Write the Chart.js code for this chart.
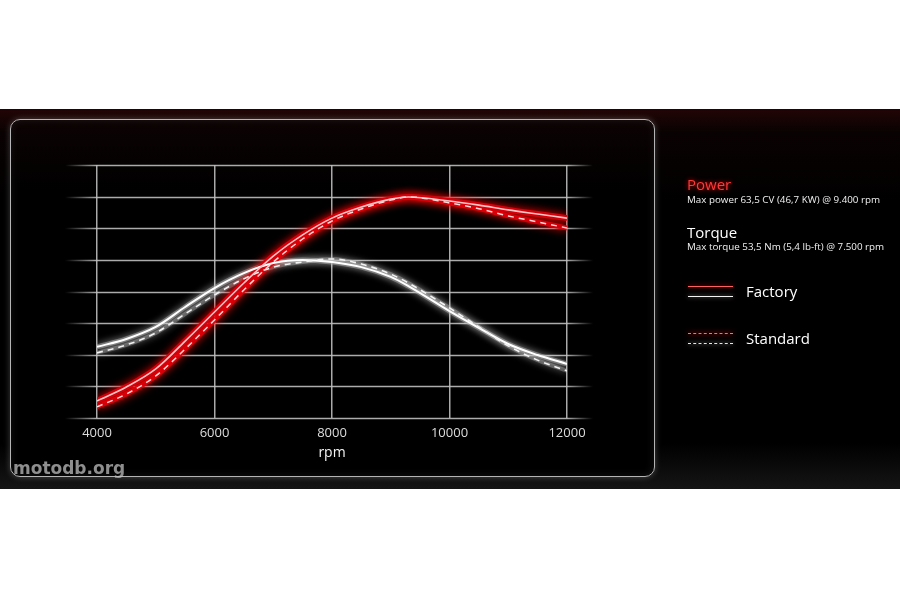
<!DOCTYPE html>
<html>
<head>
<meta charset="utf-8">
<script src="https://cdn.jsdelivr.net/npm/chart.js@4.4.1/dist/chart.umd.min.js"></script>
<style>
  html, body { margin: 0; padding: 0; background: #fff; width: 900px; height: 600px; overflow: hidden; font-family: "Open Sans", sans-serif; }
  #band { position: absolute; left: 0; top: 109px; width: 900px; height: 380px;
    background: linear-gradient(to bottom, #220506 0%, #0a0202 6%, #000 25%, #000 88%, #151515 100%); }
  #panel { position: absolute; left: 10px; top: 119px; width: 643px; height: 356px;
    border: 1.5px solid #b5b5b5; border-radius: 10px;
    box-shadow: 0 0 6px rgba(255,255,255,0.25), inset 0 0 8px rgba(255,255,255,0.08);
    background: linear-gradient(to bottom, #0c0303 0%, #000 20%); }
  #barCanvas { position: absolute; left: 0; top: 0; }
  .lg { position: absolute; color: #fff; white-space: nowrap; }
  .head { font-size: 15px; line-height: 15px; }
  .sub { font-size: 9.8px; line-height: 10px; color: #f0f0f0; }
  .sample { position: absolute; width: 45px; height: 0; }
  #mark { position: absolute; left: 13px; top: 458px; font-family: "DejaVu Sans", sans-serif; font-weight: bold;
    font-size: 17px; color: rgba(190,190,190,0.75); }
</style>
</head>
<body>
<div id="band"></div>
<div id="panel"></div>
<canvas id="barCanvas" width="900" height="600"></canvas>

<div class="lg head" style="left:687px; top:177px; color:#ff3a3a; text-shadow:0 0 5px #ff0000;">Power</div>
<div class="lg sub" style="left:687px; top:195px;">Max power 63,5 CV (46,7 KW) @ 9.400 rpm</div>
<div class="lg head" style="left:687px; top:225px;">Torque</div>
<div class="lg sub" style="left:687px; top:242px;">Max torque 53,5 Nm (5,4 lb-ft) @ 7.500 rpm</div>

<div class="sample" style="left:688px; top:286px; border-top:1.5px solid #ff6060; box-shadow:0 0 5px #ff0000;"></div>
<div class="sample" style="left:688px; top:296px; border-top:1.5px solid #f4f4f4; box-shadow:0 0 4px rgba(255,255,255,0.6);"></div>
<div class="lg head" style="left:746px; top:284px;">Factory</div>

<div class="sample" style="left:688px; top:333px; border-top:1.5px dashed #ff7070; box-shadow:0 0 5px #ff0000;"></div>
<div class="sample" style="left:688px; top:343px; border-top:1.5px dashed #e8e8e8; box-shadow:0 0 4px rgba(255,255,255,0.5);"></div>
<div class="lg head" style="left:746px; top:331px;">Standard</div>

<div id="mark">motodb.org</div>

<script>
// values, arbitrary vertical units (one unit = one grid row)
const rpm = [4000, 4500, 5000, 5500, 6000, 6500, 7000, 7500, 8000, 8500, 9000, 9300, 10000, 10500, 11000, 11500, 12000];
const powerFactory  = [0.54, 0.98, 1.55, 2.43, 3.35, 4.27, 5.12, 5.79, 6.32, 6.67, 6.92, 6.99, 6.86, 6.73, 6.58, 6.45, 6.32];
const powerStandard = [0.35, 0.76, 1.33, 2.18, 3.10, 4.05, 4.93, 5.66, 6.23, 6.61, 6.89, 6.99, 6.80, 6.62, 6.39, 6.20, 6.01];
const torqueFactory  = [2.25, 2.50, 2.88, 3.51, 4.11, 4.58, 4.90, 5.00, 4.93, 4.77, 4.46, 4.17, 3.38, 2.85, 2.34, 1.99, 1.71];
const torqueStandard = [2.06, 2.31, 2.69, 3.29, 3.89, 4.40, 4.77, 4.93, 5.03, 4.87, 4.55, 4.27, 3.48, 2.88, 2.28, 1.83, 1.49];
const xTicks = [4000, 6000, 8000, 10000, 12000];
const yRows = [0, 1, 2, 3, 4, 5, 6, 7, 8];

const pts = (vals) => rpm.map((r, i) => ({ x: r, y: vals[i] }));

function line(vals, color, width, dash, glow, order) {
    return {
        data: pts(vals),
        borderColor: color,
        borderWidth: width,
        borderDash: dash,
        pointRadius: 0,
        cubicInterpolationMode: 'monotone',
        fill: false,
        glow: glow,
        order: order,
    };
}

// soft halo under the curves
const glowPlugin = {
    id: 'glow',
    beforeDatasetDraw(chart, args) {
        const ds = chart.data.datasets[args.index];
        if (!ds.glow) { return; }
        chart.ctx.save();
        chart.ctx.shadowColor = ds.glow.color;
        chart.ctx.shadowBlur = ds.glow.blur;
    },
    afterDatasetDraw(chart, args) {
        const ds = chart.data.datasets[args.index];
        if (ds.glow) { chart.ctx.restore(); }
    }
};

// horizontal rows, fading out past the plot edges
const rowsPlugin = {
    id: 'rows',
    beforeDatasetsDraw(chart) {
        const { ctx, chartArea, scales } = chart;
        const x0 = chartArea.left - 32, x1 = chartArea.right + 26;
        const g = ctx.createLinearGradient(x0, 0, x1, 0);
        g.addColorStop(0, 'rgba(190,190,190,0)');
        g.addColorStop((chartArea.left - x0) / (x1 - x0), 'rgba(190,190,190,0.9)');
        g.addColorStop((chartArea.right - x0) / (x1 - x0), 'rgba(190,190,190,0.9)');
        g.addColorStop(1, 'rgba(190,190,190,0)');
        ctx.save();
        ctx.strokeStyle = g;
        ctx.lineWidth = 1.5;
        yRows.forEach(v => {
            const y = Math.round(scales.y.getPixelForValue(v)) + 0.5;
            ctx.beginPath();
            ctx.moveTo(x0, y);
            ctx.lineTo(x1, y);
            ctx.stroke();
        });
        ctx.restore();
    }
};

const redGlow = { color: 'rgba(255,0,0,1)', blur: 9 };
const whiteGlow = { color: 'rgba(255,255,255,0.9)', blur: 7 };

window.barChart = new Chart(document.getElementById('barCanvas'), {
    type: 'line',
    data: {
        datasets: [
            line(torqueFactory, 'rgba(170,170,170,0.55)', 5, [], whiteGlow, 5),
            line(torqueStandard, 'rgba(170,170,170,0.4)', 4, [], whiteGlow, 5),
            line(powerFactory, 'rgba(215,0,12,0.95)', 6, [], redGlow, 4),
            line(powerStandard, 'rgba(215,0,12,0.9)', 5, [], redGlow, 4),
            line(torqueStandard, '#f2f2f2', 1.6, [6, 5], null, 2),
            line(torqueFactory, '#ffffff', 2, [], null, 2),
            line(powerStandard, '#ffd8d8', 1.5, [6, 5], null, 1),
            line(powerFactory, '#ffc4c4', 1.6, [], null, 1),
        ]
    },
    options: {
        responsive: false,
        animation: false,
        devicePixelRatio: 1,
        layout: { padding: { left: 97, right: 333, top: 165, bottom: 135 } },
        scales: {
            x: {
                type: 'linear',
                min: 4000,
                max: 12000,
                afterBuildTicks: (scale) => { scale.ticks = xTicks.map(v => ({ value: v })); },
                afterFit: (scale) => { scale.height = 47; },
                border: { display: false },
                grid: { color: 'rgba(200,200,200,0.85)', lineWidth: 1.5, drawTicks: false },
                ticks: {
                    color: '#dcdcdc',
                    padding: 7,
                    maxRotation: 0,
                    font: { family: 'Open Sans', size: 13 },
                    callback: (v) => String(v)
                },
                title: {
                    display: true,
                    text: 'rpm',
                    color: '#f4f4f4',
                    font: { family: 'Open Sans', size: 14 }
                }
            },
            y: {
                display: false,
                min: 0,
                max: 8
            }
        },
        plugins: {
            legend: { display: false },
            tooltip: { enabled: false }
        }
    },
    plugins: [rowsPlugin, glowPlugin]
});
</script>
</body>
</html>
